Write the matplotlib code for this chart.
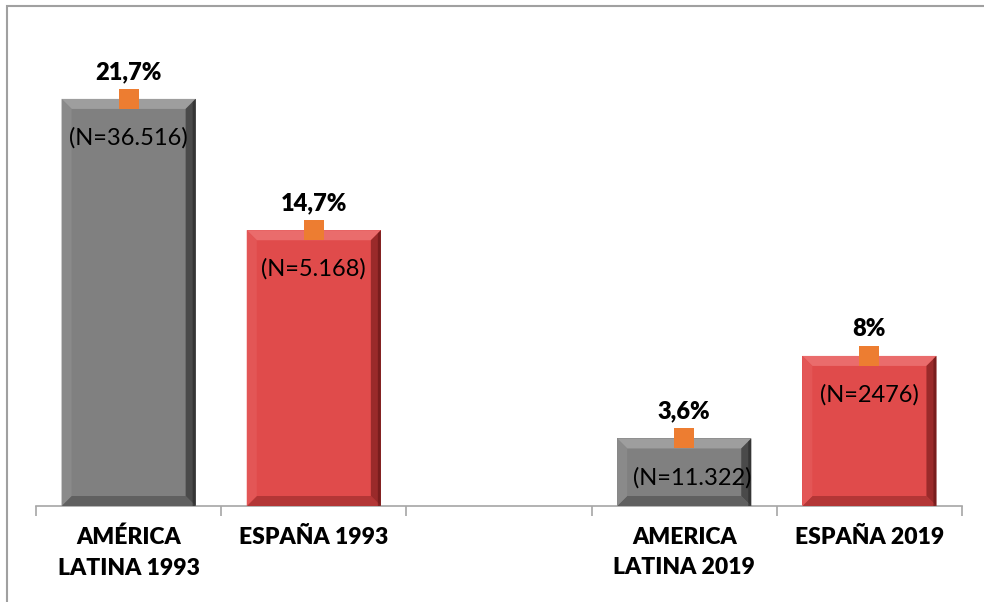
import matplotlib
matplotlib.use('Agg')
import numpy as np
import matplotlib.pyplot as plt
from matplotlib.patches import Polygon, Rectangle

plt.rcParams['font.family'] = ['Lato', 'DejaVu Sans']

# ── Data ──────────────────────────────────────────────────────
categories = ['AMÉRICA\nLATINA 1993', 'ESPAÑA 1993', '', 'AMERICA\nLATINA 2019', 'ESPAÑA 2019']
values     = [21.7, 14.7, np.nan, 3.6, 8.0]
n_labels   = ['(N=36.516)', '(N=5.168)', '', '(N=11.322)', '(N=2476)']
kinds      = ['gray', 'red', None, 'gray', 'red']

# ── Palette ───────────────────────────────────────────────────
PAL = {
    'gray': dict(face='#808080', top='#9E9E9E', left='#8A8A8A', right='#4A4A4A', bottom='#606060'),
    'red':  dict(face='#E04B4B', top='#EA6C6C', left='#E35656', right='#9A2A2A', bottom='#B33636'),
}
ORANGE = '#ED7D31'

fig = plt.figure(figsize=(9.84, 6.02), dpi=100, facecolor='white')
W, H = 984, 602
ax = fig.add_axes([36 / W, (H - 506) / H, (962 - 36) / W, 469 / H])
ax.set_xlim(-0.5, len(categories) - 0.5)
ax.set_ylim(0, 25)

x = np.arange(len(categories))
bars = ax.bar(x, values, width=0.724, color=[PAL[k]['face'] if k else 'none' for k in kinds],
              edgecolor='none', zorder=2)

# ── Bevel faces (built in pixel space, mapped back to data) ──
B = 10
to_px = ax.transData
to_data = ax.transData.inverted()
for rect, k in zip(bars, kinds):
    if k is None or not np.isfinite(rect.get_height()):
        continue
    c = PAL[k]
    (x0, y0), (x1, y1) = to_px.transform([(rect.get_x(), 0),
                                          (rect.get_x() + rect.get_width(), rect.get_height())])
    faces = {
        'top':    [(x0, y1), (x1, y1), (x1 - B, y1 - B), (x0 + B, y1 - B)],
        'bottom': [(x0, y0), (x1, y0), (x1 - B, y0 + B), (x0 + B, y0 + B)],
        'left':   [(x0, y0), (x0, y1), (x0 + B, y1 - B), (x0 + B, y0 + B)],
        'right':  [(x1, y0), (x1, y1), (x1 - B, y1 - B), (x1 - B, y0 + B)],
    }
    for name, pts in faces.items():
        ax.add_patch(Polygon(to_data.transform(pts), closed=True, facecolor=c[name],
                             edgecolor='none', zorder=3))
    # darker outer strip on the right for the shaded edge
    pts = [(x1 - 3, y0), (x1, y0), (x1, y1), (x1 - 3, y1 - 3)]
    ax.add_patch(Polygon(to_data.transform(pts), closed=True,
                         facecolor='#222222' if k == 'gray' else '#5a1212',
                         edgecolor='none', zorder=3, alpha=0.5))

# ── Markers and labels ────────────────────────────────────────
ax.scatter(x, values, marker='s', s=200, color=ORANGE, zorder=5, linewidths=0)

n_dx = [0, 0, 0, 6, 0]
for xi, v, nl, dx in zip(x, values, n_labels, n_dx):
    if not np.isfinite(v):
        continue
    txt = f'{v:.1f}'.replace('.', ',') if v != int(v) else f'{int(v)}'
    ax.annotate(txt + '%', (xi, v), xytext=(0, 19.5), textcoords='offset points',
                ha='center', va='center', fontsize=17, fontweight='heavy', color='black', zorder=6)
    ax.annotate(nl, (xi, v), xytext=(dx, -28), textcoords='offset points',
                ha='center', va='center', fontsize=17, color='black', zorder=6)

# ── Axes styling ──────────────────────────────────────────────
for s in ['top', 'right', 'left']:
    ax.spines[s].set_visible(False)
ax.spines['bottom'].set_color('#A6A6A6')
ax.spines['bottom'].set_linewidth(1.2)
ax.set_yticks([])
ax.set_xticks(x)
ax.set_xticklabels(categories, fontsize=16.5, fontweight='heavy', linespacing=1.55)
ax.set_xticks(np.arange(-0.5, len(categories)), minor=True)
ax.tick_params(axis='x', which='major', length=0, pad=15)
ax.tick_params(axis='x', which='minor', length=7, color='#A6A6A6', width=1.2, direction='out')

# ── Outer frame (cut off at right and bottom) ─────────────────
fig.add_artist(Rectangle((7 / W, -0.2), 1.2, (H - 6) / H + 0.2, transform=fig.transFigure,
                         fill=False, edgecolor='#A0A0A0', linewidth=1.5))

fig.savefig('out.png', dpi=100, facecolor='white')
